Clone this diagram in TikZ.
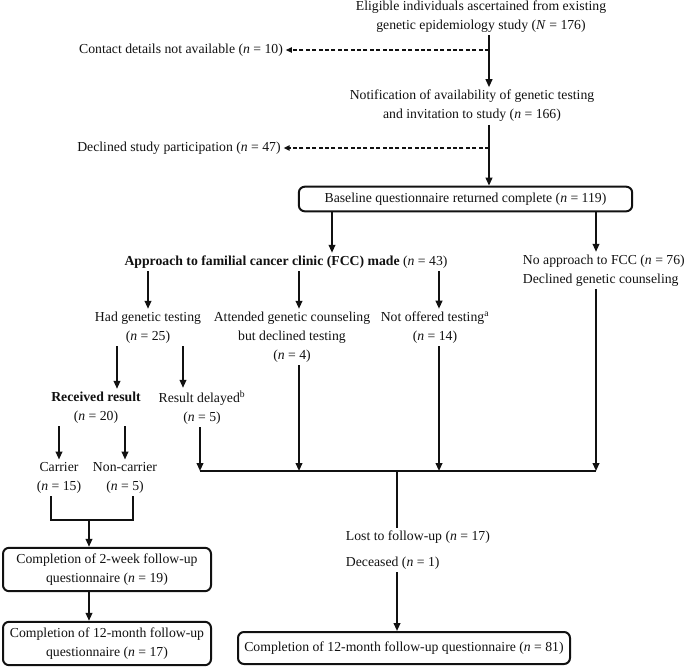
\documentclass[tikz,border=0pt]{standalone}
\usepackage{fontspec}
\setmainfont{Liberation Serif}
\usepackage{tikz}
\usetikzlibrary{arrows.meta}
\definecolor{fcink}{HTML}{111111}

\begin{document}
\begin{tikzpicture}[x=0.75pt, y=-0.75pt,
    every node/.style={font=\fontsize{10.3}{14.3}\selectfont, text=fcink, inner sep=2pt, align=center},
    fcbox/.style={draw=fcink, line width=1.5pt, rounded corners=4.5pt, inner sep=3pt},
    fcarr/.style={draw=fcink, line width=1.3pt, -{Triangle[length=6pt,width=5pt]}},
    fcdash/.style={draw=fcink, line width=1pt, dash pattern=on 3pt off 1.8pt, -{Triangle[length=4.5pt,width=4pt]}},
    fcline/.style={draw=fcink, line width=1.2pt}]
  \useasboundingbox (0,0) rectangle (685,668);
  \coordinate (mx) at (489,0);
  \coordinate (ax) at (332,0);
  \coordinate (rx) at (596,0);
  \coordinate (tx) at (299,0);
  \coordinate (ox) at (439,0);
  \coordinate (rl) at (117,0);
  \coordinate (dl) at (183,0);
  \coordinate (cl) at (51,0);
  \coordinate (cr) at (133,0);
  \coordinate (busL) at (200,471);
  \coordinate (bus) at (397,471);
  \coordinate (busR) at (596,471);
  \coordinate (jn) at (89,520);

  \node (elig) at (481,16.5) {Eligible individuals ascertained from existing\\genetic epidemiology study (\textit{N} = 176)};
  \node (contact) at (181,50) {Contact details not available (\textit{n} = 10)};
  \node (notif) at (472,106) {Notification of availability of genetic testing\\and invitation to study (\textit{n} = 166)};
  \node (declined) at (179,148) {Declined study participation (\textit{n} = 47)};
  \node[fcbox, minimum width=250pt, minimum height=18.5pt] (baseline) at (465.5,199) {Baseline questionnaire returned complete (\textit{n} = 119)};
  \node (approach) at (286,262) {\textbf{Approach to familial cancer clinic (FCC) made} (\textit{n} = 43)};
  \node[anchor=west, align=left] (noappr) at (520,270.5) {No approach to FCC (\textit{n} = 76)\\Declined genetic counseling};
  \node (hadtest) at (148,327.5) {Had genetic testing\\(\textit{n} = 25)};
  \node (attended) at (292,337) {Attended genetic counseling\\but declined testing\\(\textit{n} = 4)};
  \node (notoff) at (435,327.5) {Not offered testing\textsuperscript{a}\\(\textit{n} = 14)};
  \node (received) at (96,407.5) {\textbf{Received result}\\(\textit{n} = 20)};
  \node (delayed) at (202,407.5) {Result delayed\textsuperscript{b}\\(\textit{n} = 5)};
  \node (carrier) at (59,478) {Carrier\\(\textit{n} = 15)};
  \node (noncarr) at (125,478) {Non-carrier\\(\textit{n} = 5)};
  \node[anchor=west] (lost) at (343,537) {Lost to follow-up (\textit{n} = 17)};
  \node[anchor=west] (deceased) at (343,563) {Deceased (\textit{n} = 1)};
  \node[fcbox, minimum width=156pt, minimum height=32.5pt] (twoweek) at (107,569.5) {Completion of 2-week follow-up\\questionnaire (\textit{n} = 19)};
  \node[fcbox, minimum width=156pt, minimum height=32.5pt] (twelveL) at (107,643.5) {Completion of 12-month follow-up\\questionnaire (\textit{n} = 17)};
  \node[fcbox, minimum width=249pt, minimum height=24pt] (twelveR) at (404,648) {Completion of 12-month follow-up questionnaire (\textit{n} = 81)};

  \draw[fcarr] (elig.south -| mx) -- (notif.north -| mx);
  \draw[fcdash] (contact.east -| mx) -- (contact.east);
  \draw[fcarr] (notif.south -| mx) -- (baseline.north -| mx);
  \draw[fcdash] (declined.east -| mx) -- (declined.east);
  \draw[fcarr] (baseline.south -| ax) -- (approach.north -| ax);
  \draw[fcarr] (baseline.south -| rx) -- (noappr.north -| rx);
  \draw[fcarr] (approach.south -| hadtest.north) -- (hadtest.north);
  \draw[fcarr] (approach.south -| tx) -- (attended.north -| tx);
  \draw[fcarr] (approach.south -| ox) -- (notoff.north -| ox);
  \draw[fcarr] (hadtest.south -| rl) -- (received.north -| rl);
  \draw[fcarr] (hadtest.south -| dl) -- (delayed.north -| dl);
  \draw[fcarr] (received.south -| carrier.north) -- (carrier.north);
  \draw[fcarr] (received.south -| noncarr.north) -- (noncarr.north);
  \draw[fcline] (busL) -- (busR);
  \draw[fcarr] (delayed.south -| busL) -- (busL);
  \draw[fcarr] (attended.south -| tx) -- (tx |- bus);
  \draw[fcarr] (notoff.south -| ox) -- (ox |- bus);
  \draw[fcarr] (noappr.south -| rx) -- (busR);
  \draw[fcline] (bus) -- (lost.north -| bus);
  \draw[fcarr] (deceased.south -| bus) -- (twelveR.north -| bus);
  \draw[fcline] (carrier.south -| cl) |- (jn) -| (noncarr.south -| cr);
  \draw[fcarr] (jn) -- (twoweek.north -| jn);
  \draw[fcarr] (twoweek.south -| jn) -- (twelveL.north -| jn);
\end{tikzpicture}
\end{document}
